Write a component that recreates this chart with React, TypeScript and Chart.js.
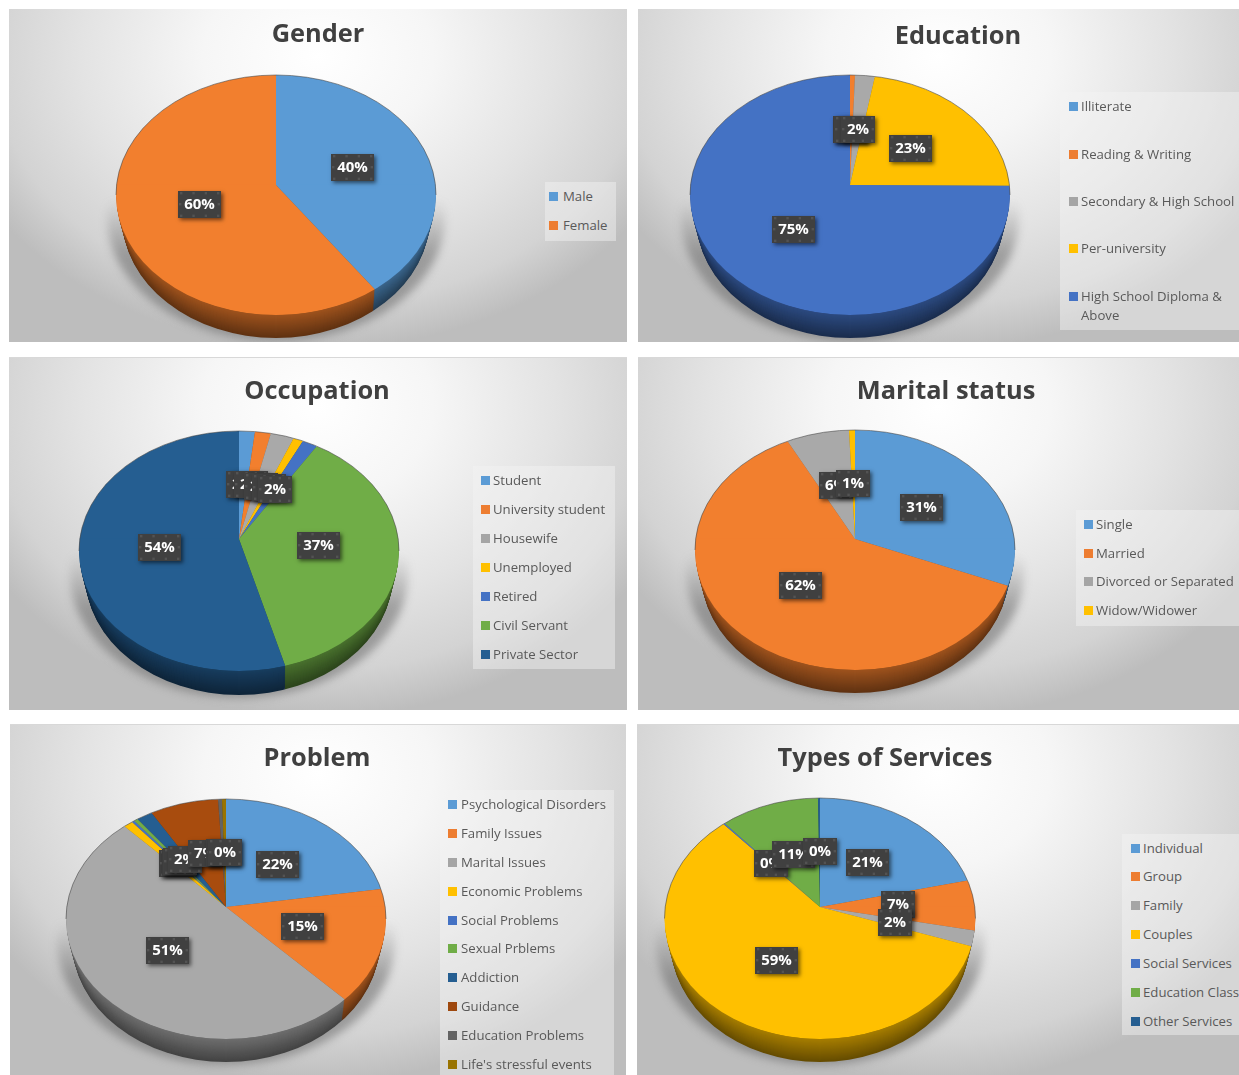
import React, { useEffect, useRef } from "react";
import { Chart, registerables } from "chart.js";

Chart.register(...registerables);

const PALETTE = ["#5B9BD5", "#ED7D31", "#A5A5A5", "#FFC000", "#4472C4", "#70AD47", "#255E91", "#9E480E", "#636363", "#997300"];
const SLICE_PALETTE = ["#5B9BD5", "#F27F2E", "#A9A9A9", "#FFC000", "#4472C4", "#70AD47", "#255E91", "#A84C0E", "#636363", "#997300"];

const genderLabels = ["Male", "Female"];
const genderValues = [40, 60];

const educationLabels = ["Illiterate", "Reading & Writing", "Secondary & High School", "Per-university", "High School Diploma & Above"];
const educationValues = [0, 0.5, 2, 22.6, 74.9];

const occupationLabels = ["Student", "University student", "Housewife", "Unemployed", "Retired", "Civil Servant", "Private Sector"];
const occupationValues = [1.6, 1.6, 2.4, 1, 1.6, 37.4, 54.4];

const maritalLabels = ["Single", "Married", "Divorced or Separated", "Widow/Widower"];
const maritalValues = [31, 62, 6.4, 0.6];

const problemLabels = ["Psychological Disorders", "Family Issues", "Marital Issues", "Economic Problems", "Social Problems", "Sexual Prblems", "Addiction", "Guidance", "Education Problems", "Life's stressful events"];
const problemValues = [22.3, 15.2, 51.3, 1, 0.3, 0.4, 1.7, 7, 0.4, 0.4];

const serviceLabels = ["Individual", "Group", "Family", "Couples", "Social Services", "Education Class", "Other Services"];
const serviceValues = [21, 7, 2, 59.09, 0.2, 10.51, 0.2];

type Layout = {
  title: string; labels: string[]; values: number[];
  box: [number, number, number, number];
  titleX: number; titleY: number;
  ax: number; ay: number; rx: number; top: number; face: number; depth: number;
  legend: { x: number; y: number; w: number; h: number; swatchX: number; textX: number; rows: number[] };
};

const panels: Layout[] = [
  { title: "Gender", labels: genderLabels, values: genderValues, box: [9, 9, 627, 342], titleX: 318, titleY: 32,
    ax: 276, ay: 185, rx: 160, top: 75, face: 315, depth: 23,
    legend: { x: 545, y: 182, w: 71, h: 59, swatchX: 549, textX: 563, rows: [196, 225] } },
  { title: "Education", labels: educationLabels, values: educationValues, box: [638, 9, 1239, 342], titleX: 958, titleY: 34,
    ax: 850, ay: 185, rx: 160, top: 75, face: 315, depth: 23,
    legend: { x: 1060, y: 92, w: 179, h: 238, swatchX: 1069, textX: 1081, rows: [106, 154, 201, 248, 296] } },
  { title: "Occupation", labels: occupationLabels, values: occupationValues, box: [9, 357, 627, 710], titleX: 317, titleY: 389,
    ax: 239, ay: 539, rx: 160, top: 431, face: 671, depth: 24,
    legend: { x: 473, y: 466, w: 142, h: 203, swatchX: 481, textX: 493, rows: [480, 509, 538, 567, 596, 625, 654] } },
  { title: "Marital status", labels: maritalLabels, values: maritalValues, box: [638, 357, 1239, 710], titleX: 946, titleY: 389,
    ax: 855, ay: 539, rx: 160, top: 430, face: 670, depth: 23,
    legend: { x: 1076, y: 510, w: 163, h: 116, swatchX: 1084, textX: 1096, rows: [524, 553, 581, 610] } },
  { title: "Problem", labels: problemLabels, values: problemValues, box: [10, 724, 626, 1075], titleX: 317, titleY: 756,
    ax: 225.5, ay: 907, rx: 160, top: 799, face: 1039, depth: 23,
    legend: { x: 440, y: 790, w: 174, h: 285, swatchX: 448, textX: 461, rows: [804, 833, 862, 891, 920, 948, 977, 1006, 1035, 1064] } },
  { title: "Types of Services", labels: serviceLabels, values: serviceValues, box: [637, 724, 1239, 1075], titleX: 885, titleY: 756,
    ax: 820, ay: 907, rx: 155.5, top: 798, face: 1039, depth: 23,
    legend: { x: 1122, y: 834, w: 117, h: 201, swatchX: 1131, textX: 1143, rows: [848, 876, 905, 934, 963, 992, 1021] } },
];

const CANVAS = 480;
const FONT = '"Open Sans", "Noto Sans", sans-serif';
const NEAR_STRETCH = 1.06;

function shade(hex: string, k: number) {
  const n = parseInt(hex.slice(1), 16);
  return `rgb(${((n >> 16) & 255) * k | 0},${((n >> 8) & 255) * k | 0},${(n & 255) * k | 0})`;
}

const pie3d = {
  id: "pie3d",
  beforeDatasetsDraw(chart: any, _a: any, o: any) {
    const ctx: CanvasRenderingContext2D = chart.ctx;
    const arcs = chart.getDatasetMeta(0).data;
    const colors = chart.data.datasets[0].backgroundColor;
    const cx = arcs[0].x, cy = arcs[0].y, r = arcs[0].outerRadius;
    const su = o.upper / r, sl = o.lower / r;
    const ry = (o.upper + o.lower) / 2;
    const ey = cy + (o.lower - o.upper) / 2;

    // floor shadow
    ctx.save();
    const g = ctx.createLinearGradient(0, cy + 15, 0, cy + 70);
    g.addColorStop(0, "rgba(110,110,110,0)");
    g.addColorStop(1, "rgba(105,105,105,0.55)");
    ctx.filter = "blur(4px)";
    ctx.fillStyle = g;
    ctx.beginPath();
    ctx.ellipse(cx, ey + o.depth, r + 9, ry + 3, 0, 0, Math.PI * 2);
    ctx.fill();
    ctx.restore();

    // side wall, from the lowest layer upward
    for (let i = o.depth; i >= 1; i--) {
      const t = i / o.depth;
      const shrink = 1 - 0.04 * t;
      ctx.save();
      ctx.beginPath();
      ctx.ellipse(cx, ey + i, r * shrink, ry, 0, 0, Math.PI * 2);
      ctx.clip();
      ctx.translate(cx, cy + i);
      ctx.scale(NEAR_STRETCH, sl);
      arcs.forEach((a: any, k: number) => {
        if (a.endAngle - a.startAngle <= 0) return;
        ctx.fillStyle = shade(colors[k], 0.66 - 0.26 * t);
        ctx.beginPath();
        ctx.moveTo(0, 0);
        ctx.arc(0, 0, r * 1.02, a.startAngle, a.endAngle);
        ctx.closePath();
        ctx.fill();
      });
      ctx.restore();
    }

    // top face: the library's own arcs, trimmed to the tilted ellipse,
    // with the apex set back from the ellipse's centre as in a perspective view
    ([[su, 1, -CANVAS, CANVAS + 0.5], [sl, NEAR_STRETCH, -0.5, CANVAS]] as number[][]).forEach(([sy, sx, y0, h]) => {
      ctx.save();
      ctx.beginPath();
      ctx.rect(0, cy + y0, CANVAS, h);
      ctx.clip();
      ctx.beginPath();
      ctx.ellipse(cx, ey, r, ry, 0, 0, Math.PI * 2);
      ctx.clip();
      ctx.translate(cx, cy);
      ctx.scale(sx, sy);
      ctx.translate(-cx, -cy);
      arcs.forEach((a: any) => a.draw(ctx, chart.chartArea));
      ctx.restore();
    });

    // rim on the far edge
    ctx.save();
    ctx.strokeStyle = "rgba(70,70,70,0.65)";
    ctx.lineWidth = 0.9;
    ctx.beginPath();
    ctx.ellipse(cx, ey, r, ry, 0, Math.PI, Math.PI * 2);
    ctx.stroke();
    ctx.restore();
    return false;
  },
  afterDraw(chart: any, _a: any, o: any) {
    const ctx: CanvasRenderingContext2D = chart.ctx;
    const arcs = chart.getDatasetMeta(0).data;
    const values: number[] = chart.data.datasets[0].data;
    const total = values.reduce((s, v) => s + v, 0);
    ctx.font = `700 15px ${FONT}`;
    ctx.textAlign = "center";
    ctx.textBaseline = "middle";
    arcs.forEach((a: any, k: number) => {
      const mid = (a.startAngle + a.endAngle) / 2;
      const dy = Math.sin(mid) * a.outerRadius * 0.5;
      const x = a.x + Math.cos(mid) * a.outerRadius * 0.5;
      const y = a.y + dy * ((dy < 0 ? o.upper : o.lower) / a.outerRadius) - 1;
      const text = `${Math.round((values[k] / total) * 100)}%`;
      const w = Math.round(ctx.measureText(text).width) + 12;
      const h = 27;
      const l = Math.round(x - w / 2), t = Math.round(y - h / 2);
      ctx.save();
      ctx.shadowColor = "rgba(0,0,0,0.55)";
      ctx.shadowBlur = 4;
      ctx.shadowOffsetX = 2;
      ctx.shadowOffsetY = 2;
      ctx.fillStyle = "#404040";
      ctx.fillRect(l, t, w, h);
      ctx.restore();
      ctx.fillStyle = "#535353";
      for (let dx = 2; dx < w - 2; dx += (w - 6) / 3) {
        ctx.fillRect(l + dx, t + 1, 2.4, 2.4);
        ctx.fillRect(l + dx, t + h - 3.4, 2.4, 2.4);
      }
      ctx.fillRect(l + 1, t + 12, 2.4, 2.4);
      ctx.fillRect(l + w - 3.4, t + 12, 2.4, 2.4);
      ctx.fillStyle = "#ffffff";
      ctx.fillText(text, l + w / 2, t + h / 2 + 0.5);
    });
  },
};

function Panel({ p }: { p: Layout }) {
  const ref = useRef<HTMLCanvasElement>(null);
  const [x0, y0, x1, y1] = p.box;
  useEffect(() => {
    const chart = new Chart(ref.current as HTMLCanvasElement, {
      type: "pie",
      data: {
        labels: p.labels,
        datasets: [{ data: p.values, backgroundColor: SLICE_PALETTE.slice(0, p.values.length), borderWidth: 0 }],
      },
      options: {
        responsive: false,
        animation: false,
        events: [],
        layout: { padding: CANVAS / 2 - p.rx },
        plugins: {
          legend: { display: false },
          tooltip: { enabled: false },
          pie3d: { upper: p.ay - p.top, lower: p.face - p.ay, depth: p.depth },
        } as any,
      },
      plugins: [pie3d as any],
    });
    return () => chart.destroy();
  }, [p]);
  const L = p.legend;
  return (
    <div style={{
      position: "absolute", left: x0, top: y0, width: x1 - x0, height: y1 - y0, overflow: "hidden",
      background: "radial-gradient(ellipse 62% 88% at 50% 14%, #ffffff 0%, #f6f6f6 30%, #e3e3e3 62%, #d3d3d3 85%, #bdbdbd 100%)",
    }}>
      {y0 > 100 && <div style={{ position: "absolute", left: 0, top: 0, width: "100%", height: 1, background: "#d8d8d8" }} />}
      <canvas ref={ref} width={CANVAS} height={CANVAS} style={{
        position: "absolute", left: p.ax - x0 - CANVAS / 2, top: p.ay - y0 - CANVAS / 2, width: CANVAS, height: CANVAS,
      }} />
      <div style={{
        position: "absolute", left: p.titleX - x0 - 200, top: p.titleY - y0 - 20, width: 400, height: 40,
        textAlign: "center", font: `700 25.4px/40px ${FONT}`, color: "#404040",
      }}>{p.title}</div>
      <div style={{ position: "absolute", left: L.x - x0, top: L.y - y0, width: L.w, height: L.h, background: "rgba(245,245,245,0.45)" }} />
      {p.labels.map((name, i) => (
        <React.Fragment key={name}>
          <div style={{ position: "absolute", left: L.swatchX - x0, top: L.rows[i] - y0 - 4.5, width: 9, height: 9, background: PALETTE[i] }} />
          <div style={{
            position: "absolute", left: L.textX - x0, top: L.rows[i] - y0 - 9, width: 160,
            font: `400 13.2px/19px ${FONT}`, color: "#595959",
          }}>{name}</div>
        </React.Fragment>
      ))}
    </div>
  );
}

export default function App() {
  useEffect(() => { document.body.style.overflow = "hidden"; }, []);
  return (
    <div style={{ position: "fixed", left: 0, top: 0, width: 1239, height: 1075, background: "#fff", overflow: "hidden" }}>
      {panels.map((p) => <Panel key={p.title} p={p} />)}
    </div>
  );
}
